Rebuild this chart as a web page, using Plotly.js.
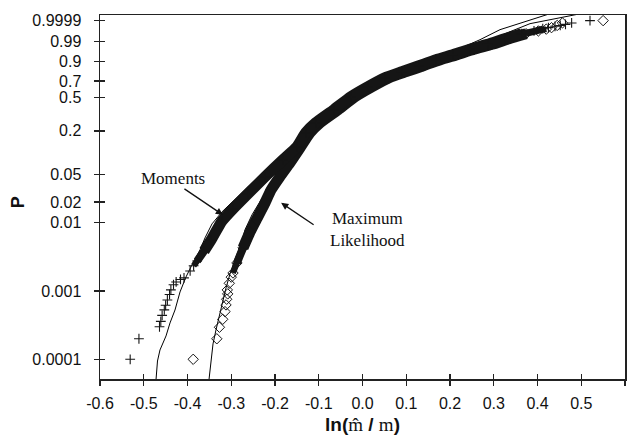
<!DOCTYPE html>
<html>
<head>
<meta charset="utf-8">
<script src="https://cdn.plot.ly/plotly-3.0.1.min.js"></script>
<style>html,body{margin:0;padding:0;background:#fff;}#chart{width:630px;height:444px;}</style>
</head>
<body>
<div id="chart"></div>
<script>
// ---- data (x = ln(m^/m), P = cumulative probability) ----
const xTickVals = [-0.6,-0.5,-0.4,-0.3,-0.2,-0.1,0.0,0.1,0.2,0.3,0.4,0.5,0.6];
const xTickLabels = ["-0.6","-0.5","-0.4","-0.3","-0.2","-0.1","0.0","0.1","0.2","0.3","0.4","0.5","0.6"];
const yTickP = [0.0001,0.001,0.01,0.02,0.05,0.2,0.5,0.7,0.9,0.99,0.9999];
const yTickLabels = ["0.0001","0.001","0.01","0.02","0.05","0.2","0.5","0.7","0.9","0.99","0.9999"];

// Moments estimator, sample points (+)
const momTailX = [-0.531,-0.511,-0.464,-0.461,-0.458,-0.453,-0.450,-0.446,-0.441,-0.438,-0.432,-0.426,-0.416,-0.408,-0.394];
const momTailP = [0.0001,0.0002,0.0003,0.00036,0.00044,0.00053,0.00062,0.00074,0.00089,0.00104,0.00124,0.00136,0.00148,0.00156,0.00197];
const momBandX = [-0.386,-0.378,-0.362,-0.346,-0.321,-0.296,-0.262,-0.223,-0.182,-0.150,-0.130,-0.107,-0.066,-0.027,0.012,0.051,0.090,0.129,0.168,0.206,0.245,0.286,0.325,0.364,0.392,0.412];
const momBandP = [0.00235,0.00276,0.00387,0.00561,0.0106,0.0159,0.0263,0.0462,0.0806,0.122,0.189,0.254,0.365,0.506,0.628,0.738,0.807,0.866,0.915,0.946,0.970,0.984,0.9933,0.9973,0.9985,0.9991];
const momTopX = [0.425,0.440,0.452,0.464,0.478,0.520];
const momTopP = [0.9993,0.9995,0.9996,0.9997,0.9998,0.9999];

// Maximum likelihood estimator, sample points (diamonds)
const mlTailX = [-0.387,-0.333,-0.327,-0.3195,-0.3143,-0.312,-0.3104,-0.3081,-0.309,-0.3045,-0.300];
const mlTailP = [0.0001,0.0002,0.000295,0.000386,0.0005,0.000626,0.000759,0.000909,0.00104,0.0013,0.0016];
const mlBandX = [-0.296,-0.287,-0.273,-0.257,-0.243,-0.225,-0.209,-0.189,-0.166,-0.143,-0.120,-0.097,-0.056,-0.017,0.022,0.061,0.100,0.139,0.178,0.216,0.255,0.296,0.335,0.374,0.402,0.420];
const mlBandP = [0.00184,0.00258,0.00429,0.00735,0.0110,0.0182,0.0300,0.0462,0.0730,0.118,0.189,0.254,0.365,0.506,0.628,0.738,0.807,0.866,0.915,0.946,0.970,0.984,0.9933,0.9973,0.9985,0.9990];
const mlTopX = [0.432,0.445,0.457,0.550];
const mlTopP = [0.9993,0.9996,0.9998,0.9999];

// Fitted (theoretical) distribution curves
const momFitX = [-0.472,-0.4686,-0.4629,-0.4491,-0.440,-0.4286,-0.4171,-0.4034,-0.3874,-0.3714,-0.360,-0.344,-0.3211,-0.2891,-0.2526,-0.2091,-0.168,-0.1269,-0.0629,-0.0217,0.056,0.1337,0.2114,0.2686,0.3143,0.3714,0.4263];
const momFitP = [0.00005,0.0000944,0.000137,0.00022,0.000341,0.000528,0.000971,0.00161,0.00259,0.00401,0.0060,0.00961,0.0144,0.0230,0.0379,0.0663,0.111,0.1887,0.3654,0.530,0.7615,0.892,0.9645,0.99209,0.99887,0.999862,0.99999];
const mlFitX = [-0.3509,-0.3463,-0.3417,-0.3349,-0.328,-0.3211,-0.312,-0.3029,-0.2914,-0.2777,-0.2686,-0.2526,-0.232,-0.209,-0.1817,-0.1497,-0.1154,-0.0217,0.056,0.1337,0.2114,0.2914,0.3829,0.4949];
const mlFitP = [0.00005,0.0000977,0.000168,0.000269,0.000418,0.00067,0.00111,0.00178,0.00296,0.00475,0.00789,0.0130,0.0215,0.0354,0.0581,0.1008,0.167,0.5061,0.7382,0.875,0.951,0.99209,0.999754,0.99999];

// ---- probability-paper transform (Weibull scale) ----
const tr = p => Math.log(-Math.log(1 - p));
const T = arr => arr.map(tr);

const ink = '#151515';
const plusM = {symbol:'cross-thin-open', size:7, color:ink, line:{color:ink, width:1.1}};
const diaM = {symbol:'diamond-open', size:8, color:ink, line:{color:ink, width:1}};

function band(xs, ps, i0, i1, w) {
  return {x: xs.slice(i0, i1), y: T(ps.slice(i0, i1)), mode:'lines',
    line:{color:ink, width:w, shape:'spline', smoothing:0.5}, hoverinfo:'skip'};
}
const nM = momBandX.length, nL = mlBandX.length;

const traces = [
  {x: momFitX, y: T(momFitP), mode:'lines', line:{color:'#000', width:1}, hoverinfo:'skip'},
  {x: mlFitX, y: T(mlFitP), mode:'lines', line:{color:'#000', width:1}, hoverinfo:'skip'},
  band(mlBandX, mlBandP, 0, 3, 6),
  band(mlBandX, mlBandP, 1, 4, 8),
  band(mlBandX, mlBandP, 2, nL - 2, 11),
  band(mlBandX, mlBandP, nL - 3, nL, 6),
  band(momBandX, momBandP, 0, 3, 6),
  band(momBandX, momBandP, 1, 4, 8),
  band(momBandX, momBandP, 2, nM - 2, 11),
  band(momBandX, momBandP, nM - 3, nM, 6),
  {x: momTailX.concat(momBandX, momTopX), y: T(momTailP.concat(momBandP, momTopP)), mode:'markers', marker:plusM, hoverinfo:'skip'},
  {x: mlTailX.concat(mlBandX, mlTopX), y: T(mlTailP.concat(mlBandP, mlTopP)), mode:'markers', marker:diaM, hoverinfo:'skip'},
  {x: [], y: [], xaxis:'x2', yaxis:'y', mode:'markers', hoverinfo:'skip'},
  {x: [], y: [], xaxis:'x', yaxis:'y2', mode:'markers', hoverinfo:'skip'}
];

const tickFont = {family:'"Liberation Sans", Arial, sans-serif', size:16, color:'#111'};
const axisCommon = {showgrid:false, zeroline:false, showline:true, linecolor:'#222', linewidth:1.5, mirror:true,
  ticks:'outside', ticklen:5, tickwidth:1.3, tickcolor:'#222', tickfont:tickFont};
const yr = [-9.875, 2.41];
const xr = [-0.6, 0.6];

const serif = '"Liberation Serif", "Times New Roman", serif';
const layout = {
  width:630, height:444,
  margin:{l:100, r:5, t:15, b:65},
  paper_bgcolor:'#fff', plot_bgcolor:'#fff',
  showlegend:false,
  xaxis: Object.assign({}, axisCommon, {range:xr, tickmode:'array', tickvals:xTickVals, ticktext:xTickLabels, ticklabelstandoff:4}),
  yaxis: Object.assign({}, axisCommon, {range:yr, tickmode:'array', tickvals:T(yTickP), ticktext:yTickLabels, ticklabelstandoff:9}),
  xaxis2: {overlaying:'x', anchor:'y', side:'bottom', range:xr, tickmode:'array', tickvals:xTickVals, ticks:'inside', ticklen:5, tickwidth:1.3, tickcolor:'#222', showticklabels:false, showline:false, showgrid:false, zeroline:false},
  yaxis2: {overlaying:'y', anchor:'x', side:'left', range:yr, tickmode:'array', tickvals:T(yTickP), ticks:'inside', ticklen:5, tickwidth:1.3, tickcolor:'#222', showticklabels:false, showline:false, showgrid:false, zeroline:false},
  annotations: [
    {xref:'x', yref:'y', x:-0.319, y:tr(0.0130), ax:-40, ay:-27, text:'', showarrow:true, arrowhead:2, arrowsize:1.1, arrowwidth:1.3, arrowcolor:'#111'},
    {xref:'x', yref:'y', x:-0.186, y:tr(0.01945), ax:34, ay:23, text:'', showarrow:true, arrowhead:2, arrowsize:1.1, arrowwidth:1.3, arrowcolor:'#111'},
    {xref:'x', yref:'y', x:-0.433, y:tr(0.0432), text:'Moments', showarrow:false, font:{family:serif, size:17, color:'#111'}},
    {xref:'x', yref:'y', x:0.0103, y:tr(0.00786), text:'Maximum<br>Likelihood', showarrow:false, font:{family:serif, size:17, color:'#111'}},
    {xref:'paper', yref:'paper', x:-0.156, y:0.486, xanchor:'center', yanchor:'middle', text:'<b>P</b>', textangle:-90, showarrow:false, font:{family:'"Liberation Sans", Arial, sans-serif', size:18, color:'#111'}},
    {xref:'paper', yref:'paper', x:0.5, y:-0.126, xanchor:'center', yanchor:'middle', showarrow:false,
      text:'<b>ln(</b><span style="font-family:\'Liberation Serif\', serif">m\u0302</span><b> / </b><span style="font-family:\'Liberation Serif\', serif">m</span><b>)</b>',
      font:{family:'"Liberation Sans", Arial, sans-serif', size:19, color:'#111'}}
  ]
};

Plotly.newPlot('chart', traces, layout, {staticPlot:true, displayModeBar:false});
</script>
</body>
</html>
